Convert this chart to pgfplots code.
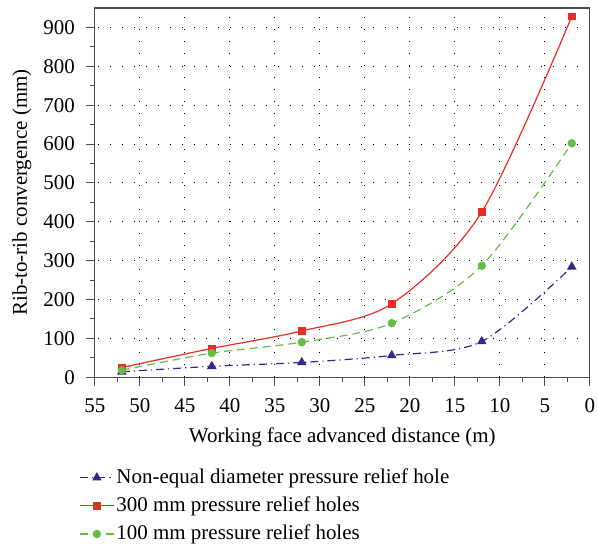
\documentclass[border=0pt]{standalone}
\usepackage{pgfplots}
\pgfplotsset{compat=1.18}
\usepackage{fontspec}
\setmainfont{Liberation Serif}
\definecolor{cred}{RGB}{235,45,35}
\definecolor{cgreen}{RGB}{100,190,70}
\definecolor{cblue}{RGB}{50,40,140}
\begin{document}
\begin{tikzpicture}
\begin{axis}[
  scale only axis, width=248pt, height=185pt,
  x dir=reverse, xmin=0, xmax=55, ymin=0, ymax=950,
  xtick={0,5,...,55}, ytick={0,100,...,900},
  minor x tick num=1, minor y tick num=1,
  tick align=outside, xtick pos=left, ytick pos=left,
  major tick length=4.5pt, minor tick length=2.5pt,
  every tick/.style={black!70, line width=0.5pt},
  axis line style={black!70, line width=0.6pt},
  grid=major,
  major grid style={black, line width=0.5pt, dash pattern=on 0.4pt off 5.6pt},
  /pgf/number format/assume math mode=true,
  ticklabel style={font=\fontsize{10.5}{12}\selectfont, inner sep=1pt},
  xticklabel style={yshift=-5.2pt},
  yticklabel style={xshift=-4.3pt},
  label style={font=\fontsize{10.5}{12}\selectfont},
  xlabel={Working face advanced distance (m)},
  ylabel={Rib-to-rib convergence (mm)},
  xlabel style={yshift=-3pt},
  ylabel style={yshift=1.5pt},
  legend style={draw=none, at={(0,0)}, anchor=south west, xshift=-8pt, yshift=-85pt,
    inner sep=0pt, font=\fontsize{10.5}{12}\selectfont, row sep=1.6pt, fill=none,
    nodes={inner sep=1pt, text height=8pt, text depth=2.5pt}},
  legend cell align=left,
]
\addplot[cblue, line width=0.6pt, dash pattern=on 4pt off 2pt on 0.6pt off 2pt, smooth, tension=0.5,
  mark=triangle*, mark size=2.2pt, mark options={solid, fill=cblue}]
  coordinates {(52,14) (42,28) (32,38) (22,56) (12,92) (2,284)};
\addlegendentry{Non-equal diameter pressure relief hole}
\addplot[cred, line width=0.6pt, smooth, tension=0.5,
  mark=square*, mark size=1.6pt, mark options={solid, fill=cred}]
  coordinates {(52,25) (42,74) (32,119) (22,189) (12,425) (2,928)};
\addlegendentry{300 mm pressure relief holes}
\addplot[cgreen, line width=0.6pt, dash pattern=on 4pt off 2.5pt, smooth, tension=0.5,
  mark=*, mark size=1.8pt, mark options={solid, fill=cgreen}]
  coordinates {(52,18) (42,62) (32,90) (22,139) (12,287) (2,602)};
\addlegendentry{100 mm pressure relief holes}
\end{axis}
\path (current axis.south west) ++(-47.5pt,0pt);
\path (current axis.north west) ++(0pt,4pt);
\end{tikzpicture}
\end{document}
